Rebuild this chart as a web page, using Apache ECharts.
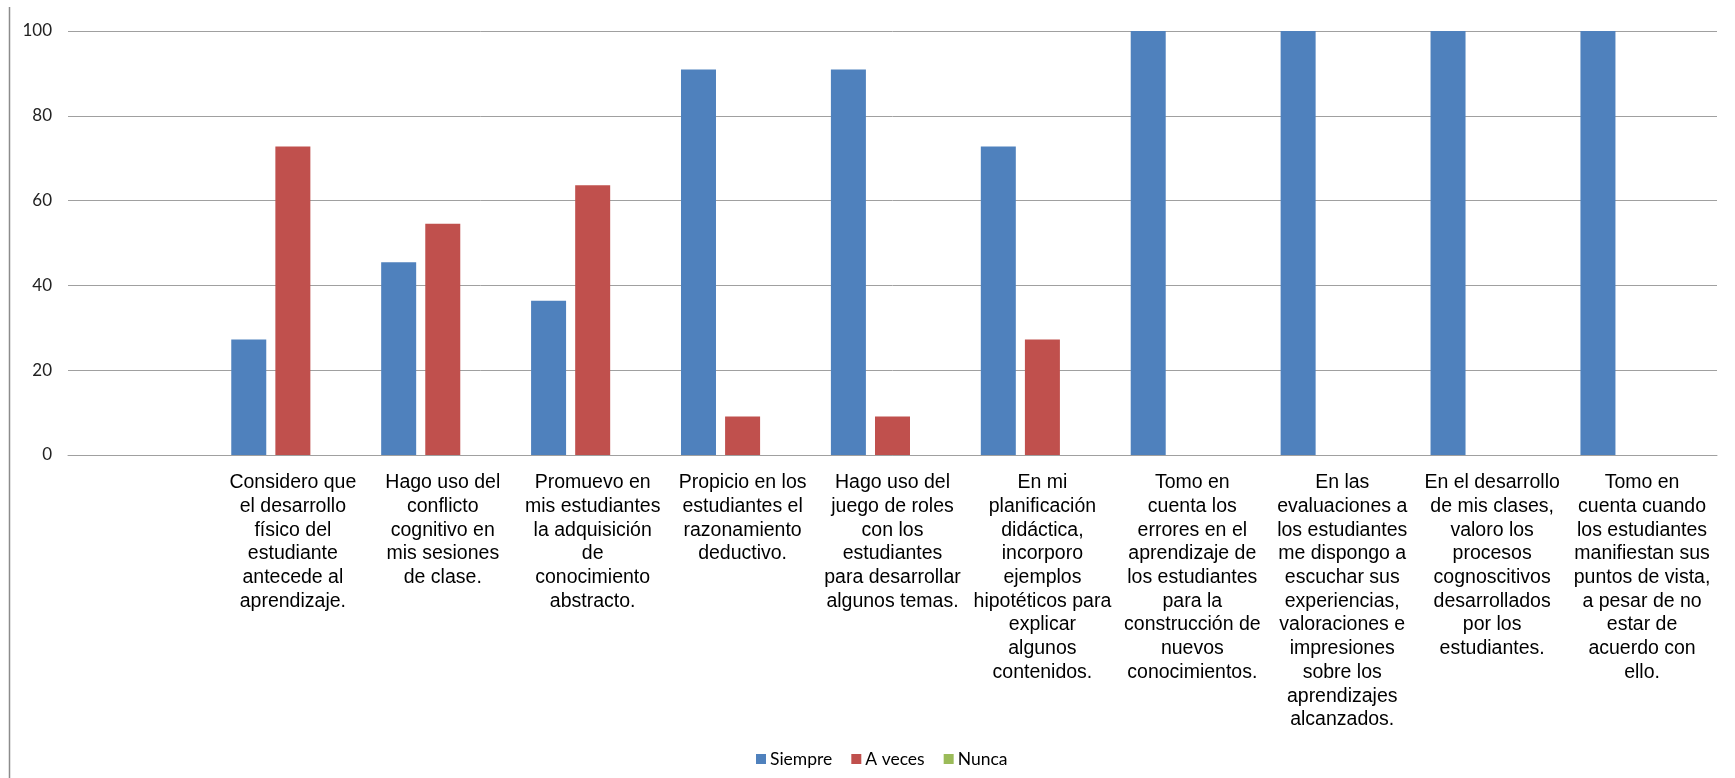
<!DOCTYPE html>
<html>
<head>
<meta charset="utf-8">
<script src="https://cdn.jsdelivr.net/npm/echarts@6/dist/echarts.min.js"></script>
<style>
html,body{margin:0;padding:0;background:#fff;}
#chart{width:1735px;height:778px;}
</style>
</head>
<body>
<div id="chart"></div>
<script>
const categories = [
  "",
  "Considero que\nel desarrollo\nfísico del\nestudiante\nantecede al\naprendizaje.",
  "Hago uso del\nconflicto\ncognitivo en\nmis sesiones\nde clase.",
  "Promuevo en\nmis estudiantes\nla adquisición\nde\nconocimiento\nabstracto.",
  "Propicio en los\nestudiantes el\nrazonamiento\ndeductivo.",
  "Hago uso del\njuego de roles\ncon los\nestudiantes\npara desarrollar\nalgunos temas.",
  "En mi\nplanificación\ndidáctica,\nincorporo\nejemplos\nhipotéticos para\nexplicar\nalgunos\ncontenidos.",
  "Tomo en\ncuenta los\nerrores en el\naprendizaje de\nlos estudiantes\npara la\nconstrucción de\nnuevos\nconocimientos.",
  "En las\nevaluaciones a\nlos estudiantes\nme dispongo a\nescuchar sus\nexperiencias,\nvaloraciones e\nimpresiones\nsobre los\naprendizajes\nalcanzados.",
  "En el desarrollo\nde mis clases,\nvaloro los\nprocesos\ncognoscitivos\ndesarrollados\npor los\nestudiantes.",
  "Tomo en\ncuenta cuando\nlos estudiantes\nmanifiestan sus\npuntos de vista,\na pesar de no\nestar de\nacuerdo con\nello."
];
const siempre = [null, 27.27, 45.45, 36.36, 90.91, 90.91, 72.73, 100, 100, 100, 100];
const aVeces  = [null, 72.73, 54.55, 63.64, 9.09, 9.09, 27.27, 0, 0, 0, 0];
const nunca   = [null, 0, 0, 0, 0, 0, 0, 0, 0, 0, 0];
const seriesNames = ["Siempre", "A veces", "Nunca"];
const yTicks = { min: 0, max: 100, interval: 20 };

const colors = ["#4F81BD", "#C0504D", "#9BBB59"];
const chart = echarts.init(document.getElementById('chart'));
const mk = (name, data, i) => ({
  name, type: 'bar', data,
  barWidth: 35, barGap: '26%',
  itemStyle: { color: colors[i] },
  emphasis: { disabled: true }
});
chart.setOption({
  animation: false,
  backgroundColor: '#fff',
  grid: { left: 68, right: 18, top: 31, bottom: 323, containLabel: false },
  legend: {
    data: seriesNames, bottom: 5, left: 751,
    itemWidth: 10, itemHeight: 10, itemGap: 19,
    icon: 'rect',
    textStyle: { fontFamily: 'Lato', fontSize: 17.5, color: '#000', padding: [0,0,0,-1] }
  },
  xAxis: {
    type: 'category', data: categories,
    axisLine: { lineStyle: { color: '#A0A0A0', width: 1 } },
    axisTick: { show: false },
    axisLabel: {
      interval: 0, margin: 16,
      fontFamily: 'Liberation Sans, Arial', fontSize: 19.5, lineHeight: 23.7,
      color: '#000', align: 'center'
    }
  },
  yAxis: {
    type: 'value', min: yTicks.min, max: yTicks.max, interval: yTicks.interval,
    axisLine: { show: false }, axisTick: { show: false },
    splitLine: { lineStyle: { color: '#A0A0A0', width: 1 } },
    axisLabel: { margin: 16, fontFamily: 'Lato', fontSize: 17, color: '#222' }
  },
  graphic: [{
    type: 'line', shape: { x1: 9.5, y1: 7, x2: 9.5, y2: 778 },
    style: { stroke: '#8C8C8C', lineWidth: 1.5 }, silent: true
  }],
  series: [mk(seriesNames[0], siempre, 0), mk(seriesNames[1], aVeces, 1), mk(seriesNames[2], nunca, 2)]
});
</script>
</body>
</html>
